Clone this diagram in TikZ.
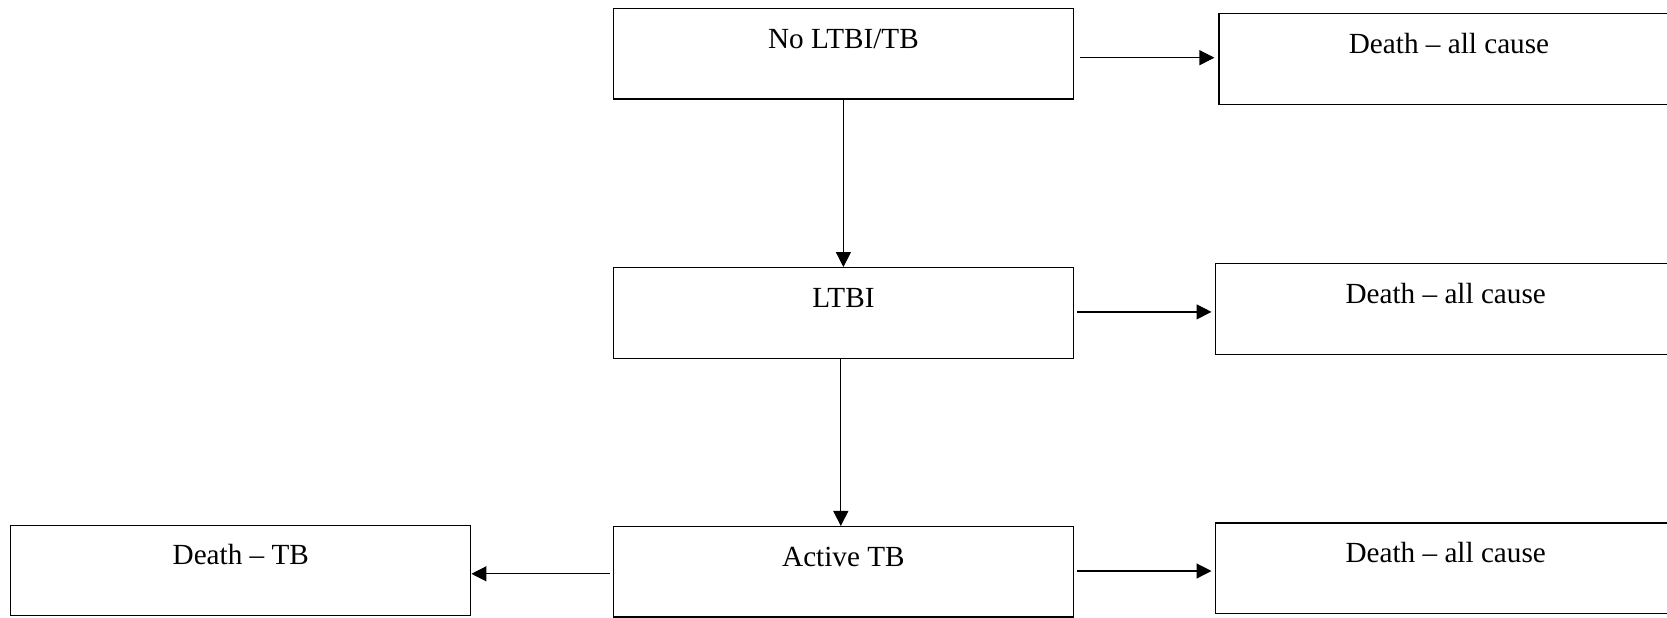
\documentclass[tikz,border=0pt]{standalone}
\usepackage{fontspec}
\setmainfont{Liberation Serif}
\usetikzlibrary{arrows.meta}
\begin{document}
\begin{tikzpicture}[x=0.5pt,y=-0.5pt,
  statebox/.style={draw, line width=0.6pt, inner xsep=0pt, inner ysep=0pt,
    minimum width=230pt, minimum height=45.25pt,
    text height=19.9pt, text depth=25.35pt,
    font=\fontsize{14.6}{17}\selectfont},
  arr/.style={line width=0.6pt, -{Triangle[length=7.5pt,width=7.5pt]}}]
\useasboundingbox (0,0) rectangle (1667,617);
\clip (0,0) rectangle (1667,617);
\node[statebox] (n1) at (843.4,53.7) {No LTBI/TB};
\node[statebox] (d1) at (1449,59) {Death -- all cause};
\node[statebox] (ltbi) at (843.4,312.9) {LTBI};
\node[statebox] (d2) at (1445.7,308.9) {Death -- all cause};
\node[statebox] (atb) at (843.4,571.8) {Active TB};
\node[statebox] (d3) at (1445.7,568.2) {Death -- all cause};
\node[statebox] (dtb) at (240.8,570.4) {Death -- TB};
% horizontal arrows
\draw[arr, shorten <=3pt, shorten >=2pt] ([yshift=-2pt]n1.east) -- ([yshift=-2pt]n1.east -| d1.west);
\draw[arr, shorten <=1.5pt, shorten >=1.8pt] ([yshift=0.5pt]ltbi.east) -- ([yshift=0.5pt]ltbi.east -| d2.west);
\draw[arr, shorten <=1.5pt, shorten >=1.8pt] ([yshift=0.4pt]atb.east) -- ([yshift=0.4pt]atb.east -| d3.west);
\draw[arr, shorten <=1.3pt] ([yshift=-1pt]atb.west) -- ([yshift=-1pt]atb.west -| dtb.east);
% vertical arrows
\draw[arr] (n1.south) -- (ltbi.north);
\draw[arr] ([xshift=-1.3pt]ltbi.south) -- ([xshift=-1.3pt]atb.north);
\end{tikzpicture}
\end{document}
